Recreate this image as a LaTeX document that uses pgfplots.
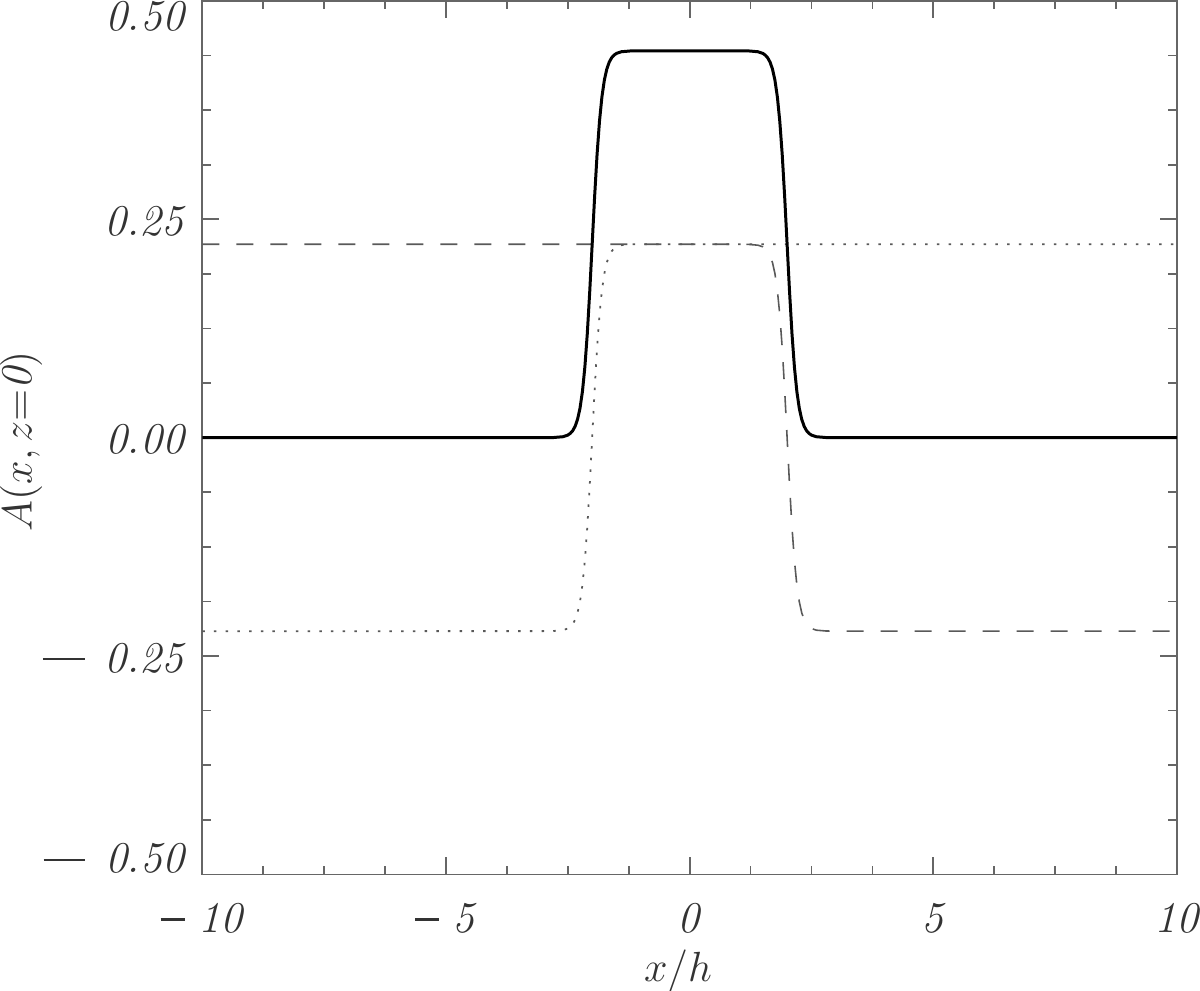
\documentclass[border=0pt]{standalone}
\usepackage{fontspec}
\usepackage{pgfplots}
\pgfplotsset{compat=1.18}
\definecolor{axgray}{gray}{0.4}
\definecolor{labtext}{gray}{0.2}
\definecolor{linegray}{gray}{0.35}
\newcommand{\ymin}{\rule[0.27em]{0.95em}{0.6pt}\hspace{0.45em}}
\newcommand{\xmin}{\rule[0.27em]{0.55em}{0.6pt}\hspace{0.3em}}

\begin{document}
\begin{tikzpicture}[font=\fontsize{12.5}{15}\selectfont]
\begin{axis}[
    name=ax,
    scale only axis,
    width=9.747cm,
    height=8.734cm,
    xmin=-10, xmax=10,
    ymin=-0.5, ymax=0.5,
    xtick={-10,-5,0,5,10},
    xticklabels={\xmin\textit{10},\xmin\textit{5},\textit{0},\textit{5},\textit{10}},
    minor x tick num=3,
    ytick={-0.5,-0.25,0,0.25,0.5},
    yticklabels={,\ymin\textit{0.25},\textit{0.00},\textit{0.25},},
    minor y tick num=3,
    major tick length=0.17cm,
    minor tick length=0.085cm,
    axis line style={axgray, line width=0.5pt},
    every tick/.style={axgray, line width=0.5pt},
    xticklabel style={anchor=base, yshift=-0.58cm, inner sep=0pt, text=labtext},
    yticklabel style={anchor=east, xshift=-0.156cm, yshift=-0.02cm, inner sep=0pt, text=labtext},
    xlabel={$x/h$},
    ylabel={$A(x,z{=}\mathit{0})$},
    every axis x label/.style={at={(axis description cs:0.488,-0.11)}, anchor=center, text=labtext},
    every axis y label/.style={at={(axis description cs:-0.186,0.496)}, anchor=center, rotate=90, text=labtext},
]
% dashed
\addplot[linegray, line width=0.45pt, dash pattern=on 0.17cm off 0.17cm] coordinates {
    (-10,0.2215) (1,0.22148) (1.2,0.22135) (1.4,0.22040) (1.5,0.21853) (1.55,0.21663)
    (1.6,0.21353) (1.65,0.20852) (1.7,0.20049) (1.75,0.18789) (1.8,0.16869) (1.85,0.14069)
    (1.9,0.10236) (1.95,0.05425) (2,0) (2.05,-0.05425) (2.1,-0.10236) (2.15,-0.14069)
    (2.2,-0.16869) (2.25,-0.18789) (2.3,-0.20049) (2.35,-0.20852) (2.4,-0.21353)
    (2.45,-0.21663) (2.5,-0.21853) (2.6,-0.22040) (2.8,-0.22135) (3,-0.22148) (10,-0.2215)
};
% dotted
\addplot[linegray, line width=0.5pt, dash pattern=on 0.025cm off 0.092cm] coordinates {
    (-10,-0.2215) (-3,-0.22148) (-2.8,-0.22135) (-2.6,-0.22040) (-2.5,-0.21853) (-2.45,-0.21663)
    (-2.4,-0.21353) (-2.35,-0.20852) (-2.3,-0.20049) (-2.25,-0.18789) (-2.2,-0.16869)
    (-2.15,-0.14069) (-2.1,-0.10236) (-2.05,-0.05425) (-2,0) (-1.95,0.05425) (-1.9,0.10236)
    (-1.85,0.14069) (-1.8,0.16869) (-1.75,0.18789) (-1.7,0.20049) (-1.65,0.20852)
    (-1.6,0.21353) (-1.55,0.21663) (-1.5,0.21853) (-1.4,0.22040) (-1.2,0.22135) (-1,0.22148) (10,0.2215)
};
% solid
\addplot[black, line width=0.85pt] coordinates {
    (-10,0) (-3,0.00002) (-2.8,0.00015) (-2.6,0.0011) (-2.5,0.00297) (-2.45,0.00487)
    (-2.4,0.00797) (-2.35,0.01298) (-2.3,0.02101) (-2.25,0.03361) (-2.2,0.05281)
    (-2.15,0.08081) (-2.1,0.11914) (-2.05,0.16725) (-2,0.2215) (-1.95,0.27575)
    (-1.9,0.32386) (-1.85,0.36219) (-1.8,0.39019) (-1.75,0.40939) (-1.7,0.42199)
    (-1.65,0.43002) (-1.6,0.43503) (-1.55,0.43813) (-1.5,0.44003) (-1.4,0.4419)
    (-1.2,0.44285) (-1,0.44298) (0,0.443) (1,0.44298) (1.2,0.44285) (1.4,0.4419)
    (1.5,0.44003) (1.55,0.43813) (1.6,0.43503) (1.65,0.43002) (1.7,0.42199)
    (1.75,0.40939) (1.8,0.39019) (1.85,0.36219) (1.9,0.32386) (1.95,0.27575)
    (2,0.2215) (2.05,0.16725) (2.1,0.11914) (2.15,0.08081) (2.2,0.05281)
    (2.25,0.03361) (2.3,0.02101) (2.35,0.01298) (2.4,0.00797) (2.45,0.00487)
    (2.5,0.00297) (2.6,0.0011) (2.8,0.00015) (3,0.00002) (10,0)
};
\end{axis}
\node[anchor=north east, inner sep=0pt, text=labtext] at ([xshift=-0.156cm]ax.north west) {\textit{0.50}};
\node[anchor=south east, inner sep=0pt, text=labtext] at ([xshift=-0.156cm]ax.south west) {\ymin\textit{0.50}};
\pgfresetboundingbox
\path[use as bounding box] ([shift={(-2.023cm,-1.16cm)}]ax.south west) rectangle ([shift={(0.23cm,0.01cm)}]ax.north east);
\end{tikzpicture}
\end{document}
